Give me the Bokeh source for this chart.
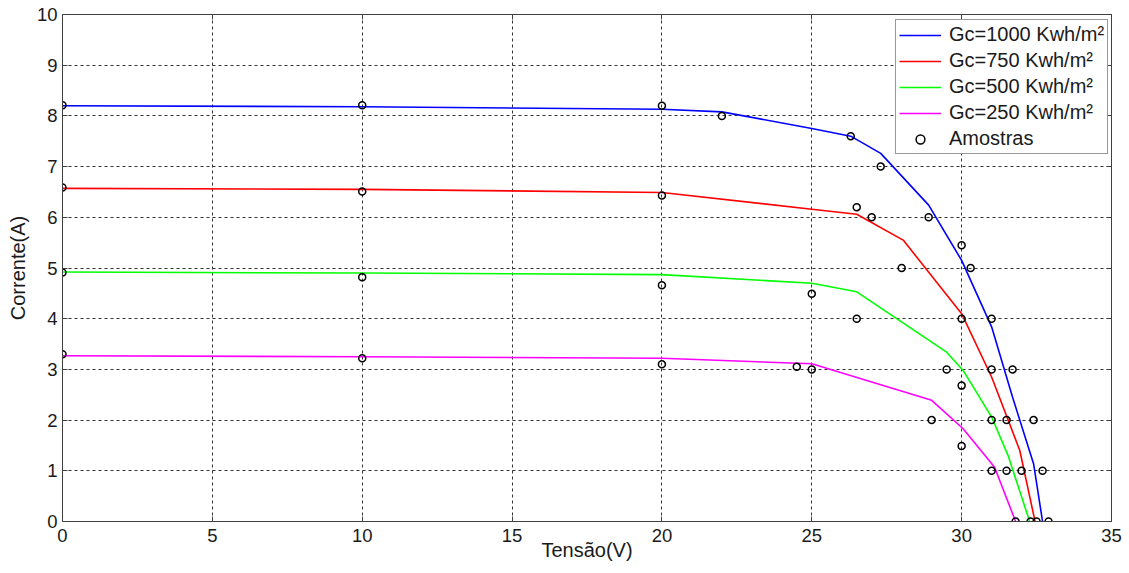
from bokeh.plotting import figure
from bokeh.models import (LinearAxis, Range1d, FixedTicker, Legend, LegendItem,
                          CustomJSTickFormatter)
from bokeh.embed import file_html
from bokeh.resources import INLINE

# ---- curves (model) ----
V_1000 = [0, 10, 20, 22, 25, 26.3, 27.3, 28.9, 30, 31, 31.7, 32.4, 32.7]
I_1000 = [8.2, 8.18, 8.13, 8.08, 7.75, 7.6, 7.26, 6.24, 5.15, 3.84, 2.45, 1.14, 0]
V_750 = [0, 10, 20, 25, 26.5, 28.05, 30, 31, 31.94, 32.45]
I_750 = [6.57, 6.55, 6.49, 6.16, 6.06, 5.55, 4.1, 2.85, 1.4, 0]
V_500 = [0, 10, 20, 25, 26.5, 29.5, 30.05, 31, 31.55, 32.27]
I_500 = [4.92, 4.9, 4.87, 4.7, 4.53, 3.34, 2.98, 2.06, 1.3, 0]
V_250 = [0, 10, 20, 25, 29, 30.05, 31.1, 31.8]
I_250 = [3.27, 3.25, 3.22, 3.11, 2.39, 1.83, 1.07, 0]

# ---- samples (Amostras) ----
SV_1000 = [0, 10, 20, 22, 26.3, 27.3, 28.9, 30, 30.3, 31, 31.7, 32.4, 32.7, 32.9]
SI_1000 = [8.21, 8.21, 8.2, 8.0, 7.6, 7.0, 6.0, 5.45, 5.0, 4.0, 3.0, 2.0, 1.0, 0]
SV_750 = [0, 10, 20, 26.5, 27, 28, 30, 31, 31.5, 32, 32.5]
SI_750 = [6.59, 6.51, 6.43, 6.2, 6.0, 5.0, 4.0, 3.0, 2.0, 1.0, 0]
SV_500 = [0, 10, 20, 25, 26.5, 29.5, 30, 31, 31.5, 32.3]
SI_500 = [4.91, 4.82, 4.66, 4.49, 4.0, 3.0, 2.68, 2.0, 1.0, 0]
SV_250 = [0, 10, 20, 24.5, 25, 29, 30, 31, 31.8]
SI_250 = [3.3, 3.22, 3.1, 3.05, 3.0, 2.0, 1.49, 1.0, 0]

labels = ["Gc=1000 Kwh/m²", "Gc=750 Kwh/m²", "Gc=500 Kwh/m²", "Gc=250 Kwh/m²", "Amostras"]
colors = ["#0000FF", "#FF0000", "#00FF00", "#FF00FF"]
x_ticks = [0, 5, 10, 15, 20, 25, 30, 35]
y_ticks = [0, 1, 2, 3, 4, 5, 6, 7, 8, 9, 10]

FONT = "Liberation Sans"

p = figure(width=1129, height=573, output_backend="svg", toolbar_location=None,
           x_range=Range1d(0, 35), y_range=Range1d(0, 10),
           min_border_left=62, min_border_right=18, min_border_top=14, min_border_bottom=52,
           x_axis_label="Tensão(V)", y_axis_label="Corrente(A)")
p.background_fill_color = "white"
p.border_fill_color = "white"
p.outline_line_color = "#404040"
p.outline_line_width = 1

for ax, ticks in ((p.xaxis[0], x_ticks), (p.yaxis[0], y_ticks)):
    ax.ticker = FixedTicker(ticks=ticks)
    ax.major_tick_in = 5
    ax.major_tick_out = 0
    ax.minor_tick_in = 0
    ax.minor_tick_out = 0
    ax.axis_line_color = "#404040"
    ax.major_tick_line_color = "#404040"
    ax.major_label_text_font = FONT
    ax.major_label_text_font_size = "18.5px"
    ax.major_label_text_color = "#1a1a1a"
    ax.axis_label_text_font = FONT
    ax.axis_label_text_font_size = "20px"
    ax.axis_label_text_font_style = "normal"
    ax.axis_label_text_color = "#1a1a1a"

p.xaxis[0].major_label_standoff = 7
p.xaxis[0].axis_label_standoff = -6
p.yaxis[0].major_label_standoff = 5
p.yaxis[0].axis_label_standoff = 5

blank = CustomJSTickFormatter(code="return ''")
for loc, ticks in (("above", x_ticks), ("right", y_ticks)):
    ax = LinearAxis(ticker=FixedTicker(ticks=ticks), formatter=blank)
    ax.major_tick_in = 5
    ax.major_tick_out = 0
    ax.minor_tick_in = 0
    ax.minor_tick_out = 0
    ax.axis_line_color = "#404040"
    ax.major_tick_line_color = "#404040"
    ax.major_label_standoff = 0
    ax.axis_label = None
    p.add_layout(ax, loc)

for g, ticks in ((p.xgrid[0], x_ticks), (p.ygrid[0], y_ticks)):
    g.ticker = FixedTicker(ticks=ticks)
    g.grid_line_color = "#333333"
    g.grid_line_dash = "3 3"
    g.grid_line_width = 1

curves = [(V_1000, I_1000), (V_750, I_750), (V_500, I_500), (V_250, I_250)]
items = []
for (vx, iy), c, lab in zip(curves, colors, labels):
    r = p.line(vx, iy, line_color=c, line_width=1.6)
    items.append(LegendItem(label=lab, renderers=[r]))

SV = SV_1000 + SV_750 + SV_500 + SV_250
SI = SI_1000 + SI_750 + SI_500 + SI_250
rs = p.scatter(SV, SI, marker="circle", size=7, fill_color=None,
               line_color="black", line_width=1.5)
items.append(LegendItem(label=labels[4], renderers=[rs]))

legend = Legend(items=items, location=(833, 367))
legend.label_text_font = FONT
legend.label_text_font_size = "20px"
legend.label_text_color = "#1a1a1a"
legend.border_line_color = "#333333"
legend.border_line_width = 1
legend.background_fill_color = "white"
legend.background_fill_alpha = 1
legend.glyph_width = 42
legend.glyph_height = 22
legend.label_height = 22
legend.label_standoff = 8
legend.spacing = 3
legend.padding = 3
legend.margin = 0
p.add_layout(legend)

open("out.html", "w").write(file_html(p, INLINE))
